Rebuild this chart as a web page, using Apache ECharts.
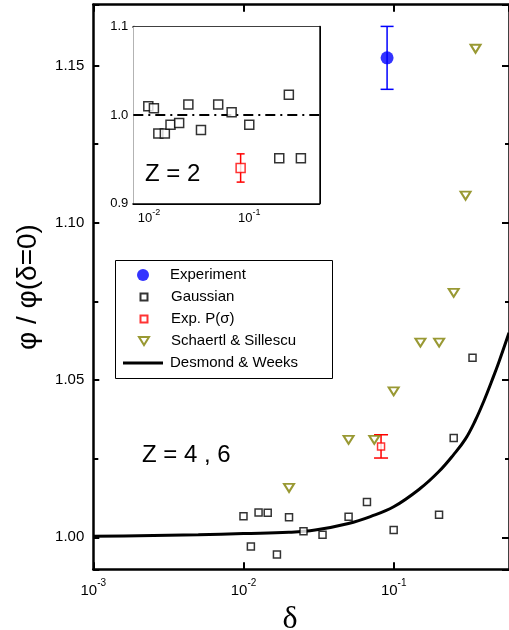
<!DOCTYPE html>
<html>
<head>
<meta charset="utf-8">
<script src="https://cdn.jsdelivr.net/npm/echarts@6/dist/echarts.min.js"></script>
<style>
  html, body { margin: 0; padding: 0; background: #fff; }
  #chart { width: 509px; height: 630px; }
</style>
</head>
<body>
<div id="chart"></div>
<script>
// main panel (Z = 4, 6)
var expDelta = [0.0904];
var expPhi = [1.1524];
var expErr = [0.0100];

var gaussDelta = [0.0100, 0.0112, 0.0126, 0.0145, 0.0167, 0.0201, 0.0251, 0.0336, 0.0501, 0.0664, 0.100, 0.2005, 0.251, 0.335];
var gaussPhi = [1.0067, 0.9971, 1.0079, 1.0078, 0.9945, 1.0064, 1.0019, 1.0008, 1.0065, 1.0112, 1.0023, 1.0072, 1.0316, 1.0571];

var expPDelta = [0.0824];
var expPPhi = [1.0289];
var expPErr = [0.0037];

var schDelta = [0.0201, 0.0501, 0.0743, 0.100, 0.1507, 0.2008, 0.251, 0.301, 0.351];
var schPhi = [1.0157, 1.0310, 1.0310, 1.0464, 1.0619, 1.0619, 1.0777, 1.1086, 1.1553];

var dwDelta = [0.001, 0.002, 0.005, 0.01, 0.02, 0.03, 0.05, 0.07, 0.1, 0.15, 0.2, 0.25, 0.3, 0.35, 0.4, 0.45, 0.5, 0.586];
var dwPhi = [1.0003, 1.0005, 1.0008, 1.0012, 1.0016, 1.0023, 1.0044, 1.0066, 1.0097, 1.0155, 1.0209, 1.0262, 1.0312, 1.0372, 1.0435, 1.0497, 1.0555, 1.0650];

// inset (Z = 2)
var g2Delta = [0.00985, 0.0112, 0.0124, 0.0144, 0.0164, 0.0200, 0.0247, 0.0330, 0.0490, 0.0667, 0.100, 0.199, 0.248, 0.327];
var g2Phi = [1.010, 1.0076, 0.979, 0.979, 0.989, 0.991, 1.012, 0.983, 1.012, 1.003, 0.989, 0.951, 1.023, 0.951];
var p2Delta = [0.082];
var p2Phi = [0.940];
var p2Err = [0.016];

var legendNames = ['Experiment', 'Gaussian', 'Exp. P(σ)', 'Schaertl & Sillescu', 'Desmond & Weeks'];

function pairs(xs, ys) {
  return xs.map(function (x, i) { return [x, ys[i]]; });
}
function bars(xs, ys, es) {
  return xs.map(function (x, i) { return [x, ys[i] - es[i], ys[i] + es[i]]; });
}

// vertical error bar with caps
function errorBar(half) {
  return function (params, api) {
    var x = api.value(0);
    var lo = api.coord([x, api.value(1)]);
    var hi = api.coord([x, api.value(2)]);
    var st = { stroke: api.visual('color'), lineWidth: 1.5 };
    return {
      type: 'group',
      children: [
        { type: 'line', shape: { x1: hi[0], y1: hi[1], x2: lo[0], y2: lo[1] }, style: st },
        { type: 'line', shape: { x1: hi[0] - half, y1: hi[1], x2: hi[0] + half, y2: hi[1] }, style: st },
        { type: 'line', shape: { x1: lo[0] - half, y1: lo[1], x2: lo[0] + half, y2: lo[1] }, style: st }
      ]
    };
  };
}

function powLabel(v) {
  return '{b|10}{s|' + Math.round(Math.log10(v)) + '}';
}

var font = '"Liberation Sans", Arial, sans-serif';
var serif = '"Liberation Serif", "DejaVu Serif", serif';

// legend: one small legend per row so every icon keeps its own size
var legendIcons = ['circle', 'rect', 'rect', 'path://M0,0L10,0L5,8Z', 'rect'];
var legendW = [12, 7, 7, 10, 40];
var legendH = [12, 7, 7, 8, 3];

var chart = echarts.init(document.getElementById('chart'), null, { renderer: 'canvas' });

var option = {
  backgroundColor: '#fff',
  animation: false,
  textStyle: { fontFamily: font },
  grid: [
    { left: 93.3, top: 4.7, right: 0, bottom: 60.7, z: 0, outerBoundsMode: 'none', containLabel: false },
    { left: 133.3, top: 26.7, width: 186, height: 176.6, show: true, backgroundColor: '#fff', borderWidth: 0, z: 5, outerBoundsMode: 'none', containLabel: false }
  ],
  xAxis: [
    {
      gridIndex: 0, type: 'log', logBase: 10, min: 0.001, max: 0.586, position: 'bottom',
      axisLine: { lineStyle: { color: '#000', width: 2.5 } },
      axisTick: { inside: true, length: 7, lineStyle: { color: '#000', width: 2 } },
      axisLabel: {
        formatter: powLabel, margin: 9, showMaxLabel: false,
        rich: {
          b: { fontSize: 15, fontFamily: font, color: '#000', lineHeight: 20, verticalAlign: 'bottom' },
          s: { fontSize: 10, fontFamily: font, color: '#000', lineHeight: 12, verticalAlign: 'top' }
        }
      },
      splitLine: { show: false },
      name: 'δ', nameLocation: 'middle', nameGap: 17,
      nameTextStyle: { fontSize: 32, fontFamily: serif, color: '#000', padding: [0, 22, 0, 0] }
    },
    {
      gridIndex: 0, type: 'log', logBase: 10, min: 0.001, max: 0.586, position: 'top',
      axisLine: { lineStyle: { color: '#000', width: 2.5 } },
      axisTick: { inside: true, length: 7, lineStyle: { color: '#000', width: 2 } },
      axisLabel: { show: false },
      splitLine: { show: false }
    },
    {
      gridIndex: 1, type: 'log', logBase: 10, min: 0.00698, max: 0.499, position: 'bottom',
      axisLine: { lineStyle: { color: '#000', width: 2 } },
      axisTick: { inside: true, length: 5, lineStyle: { color: '#000', width: 1.5 } },
      axisLabel: {
        formatter: powLabel, margin: 5, showMinLabel: false, showMaxLabel: false,
        rich: {
          b: { fontSize: 13, fontFamily: font, color: '#000', lineHeight: 17, verticalAlign: 'bottom' },
          s: { fontSize: 9, fontFamily: font, color: '#000', lineHeight: 10, verticalAlign: 'top' }
        }
      },
      splitLine: { show: false }
    },
    {
      gridIndex: 1, type: 'log', logBase: 10, min: 0.00698, max: 0.499, position: 'top',
      axisLine: { lineStyle: { color: '#000', width: 2 } },
      axisTick: { inside: true, length: 5, lineStyle: { color: '#000', width: 1.5 } },
      axisLabel: { show: false },
      splitLine: { show: false }
    }
  ],
  yAxis: [
    {
      gridIndex: 0, type: 'value', min: 0.98983, max: 1.1693, splitNumber: 4, position: 'left',
      axisLine: { show: true, lineStyle: { color: '#000', width: 2.5 } },
      axisTick: { show: true, inside: true, length: 6, lineStyle: { color: '#000', width: 2 } },
      minorTick: { show: true, splitNumber: 2, length: 5, lineStyle: { color: '#000', width: 2 } },
      axisLabel: {
        formatter: function (v) { return v.toFixed(2); }, fontSize: 15, color: '#000', margin: 9,
        showMinLabel: false, showMaxLabel: false
      },
      splitLine: { show: false },
      name: 'φ / φ(δ=0)', nameLocation: 'middle', nameGap: 51,
      nameTextStyle: { fontSize: 28, fontFamily: font, color: '#000' }
    },
    {
      gridIndex: 0, type: 'value', min: 0.98983, max: 1.1693, splitNumber: 4, position: 'right',
      axisLine: { show: true, lineStyle: { color: '#000', width: 2.5 } },
      axisTick: { show: true, inside: true, length: 7, lineStyle: { color: '#000', width: 2 } },
      minorTick: { show: true, splitNumber: 2, length: 4, lineStyle: { color: '#000', width: 2 } },
      axisLabel: { show: false },
      splitLine: { show: false }
    },
    {
      gridIndex: 1, type: 'value', min: 0.9, max: 1.1, interval: 0.1, position: 'left',
      axisLine: { show: true, lineStyle: { color: '#000', width: 2 } },
      axisTick: { show: true, inside: true, length: 5, lineStyle: { color: '#000', width: 1.5 } },
      minorTick: { show: true, splitNumber: 2, length: 3, lineStyle: { color: '#000', width: 1.5 } },
      axisLabel: { formatter: function (v) { return v.toFixed(1); }, fontSize: 13, color: '#000', margin: 5 },
      splitLine: { show: false }
    },
    {
      gridIndex: 1, type: 'value', min: 0.9, max: 1.1, interval: 0.1, position: 'right',
      axisLine: { show: true, lineStyle: { color: '#000', width: 2 } },
      axisTick: { show: true, inside: true, length: 5, lineStyle: { color: '#000', width: 1.5 } },
      minorTick: { show: true, splitNumber: 2, length: 3, lineStyle: { color: '#000', width: 1.5 } },
      axisLabel: { show: false },
      splitLine: { show: false }
    }
  ],
  legend: legendNames.map(function (name, i) {
    var w = legendW[i];
    return {
      data: [{ name: name, icon: legendIcons[i] }],
      orient: 'vertical', left: 143 - w / 2, top: 266 + i * 22,
      padding: 0, itemWidth: w, itemHeight: legendH[i], itemGap: 0,
      selectedMode: false,
      textStyle: { fontSize: 15, fontFamily: font, color: '#000', lineHeight: 18, padding: [0, 0, 0, 22 - w / 2] }
    };
  }),
  graphic: [
    { type: 'rect', shape: { x: 115.5, y: 260.5, width: 217, height: 118 }, style: { fill: 'none', stroke: '#000', lineWidth: 1 }, z: 10 },
    { type: 'text', left: 142, top: 443, style: { text: 'Z = 4 , 6', font: '24px "Liberation Sans", Arial, sans-serif', fill: '#000' } },
    { type: 'text', left: 145, top: 162, z: 20, style: { text: 'Z = 2', font: '24px "Liberation Sans", Arial, sans-serif', fill: '#000' } }
  ],
  series: [
    {
      name: 'Desmond & Weeks', type: 'line', xAxisIndex: 0, yAxisIndex: 0,
      data: pairs(dwDelta, dwPhi), smooth: 0.4, symbol: 'none',
      lineStyle: { color: '#000', width: 3 }, itemStyle: { color: '#000' }, z: 2
    },
    {
      name: 'Gaussian', type: 'scatter', xAxisIndex: 0, yAxisIndex: 0,
      data: pairs(gaussDelta, gaussPhi), symbol: 'rect', symbolSize: 7,
      itemStyle: { color: '#fff', borderColor: '#000', borderWidth: 1.5 }, z: 3
    },
    {
      name: 'expPErr', type: 'custom', xAxisIndex: 0, yAxisIndex: 0,
      data: bars(expPDelta, expPPhi, expPErr), renderItem: errorBar(7),
      itemStyle: { color: '#ff0000' }, z: 3
    },
    {
      name: 'Exp. P(σ)', type: 'scatter', xAxisIndex: 0, yAxisIndex: 0,
      data: pairs(expPDelta, expPPhi), symbol: 'rect', symbolSize: 7,
      itemStyle: { color: '#fff', borderColor: '#ff0000', borderWidth: 1.5 }, z: 4
    },
    {
      name: 'Schaertl & Sillescu', type: 'scatter', xAxisIndex: 0, yAxisIndex: 0,
      data: pairs(schDelta, schPhi), symbol: 'triangle', symbolRotate: 180, symbolSize: [10, 8],
      itemStyle: { color: '#fff', borderColor: '#808000', borderWidth: 2 }, z: 4
    },
    {
      name: 'expErr', type: 'custom', xAxisIndex: 0, yAxisIndex: 0,
      data: bars(expDelta, expPhi, expErr), renderItem: errorBar(6.5),
      itemStyle: { color: '#0000ff' }, z: 3
    },
    {
      name: 'Experiment', type: 'scatter', xAxisIndex: 0, yAxisIndex: 0,
      data: pairs(expDelta, expPhi), symbol: 'circle', symbolSize: 13,
      itemStyle: { color: '#0000ff' }, z: 4
    },
    {
      name: 'Gaussian Z2', type: 'scatter', xAxisIndex: 2, yAxisIndex: 2,
      data: pairs(g2Delta, g2Phi), symbol: 'rect', symbolSize: 9,
      itemStyle: { color: '#fff', borderColor: '#000', borderWidth: 1.5 }, z: 12,
      markLine: {
        silent: true, symbol: 'none', label: { show: false },
        lineStyle: { color: '#000', width: 2, type: [10, 5, 2, 5] },
        data: [{ yAxis: 1.0 }]
      }
    },
    {
      name: 'expP Z2 err', type: 'custom', xAxisIndex: 2, yAxisIndex: 2,
      data: bars(p2Delta, p2Phi, p2Err), renderItem: errorBar(4),
      itemStyle: { color: '#ff0000' }, z: 12
    },
    {
      name: 'expP Z2', type: 'scatter', xAxisIndex: 2, yAxisIndex: 2,
      data: pairs(p2Delta, p2Phi), symbol: 'rect', symbolSize: 9,
      itemStyle: { color: '#fff', borderColor: '#ff0000', borderWidth: 1.5 }, z: 13
    }
  ]
};

chart.setOption(option);
</script>
</body>
</html>
